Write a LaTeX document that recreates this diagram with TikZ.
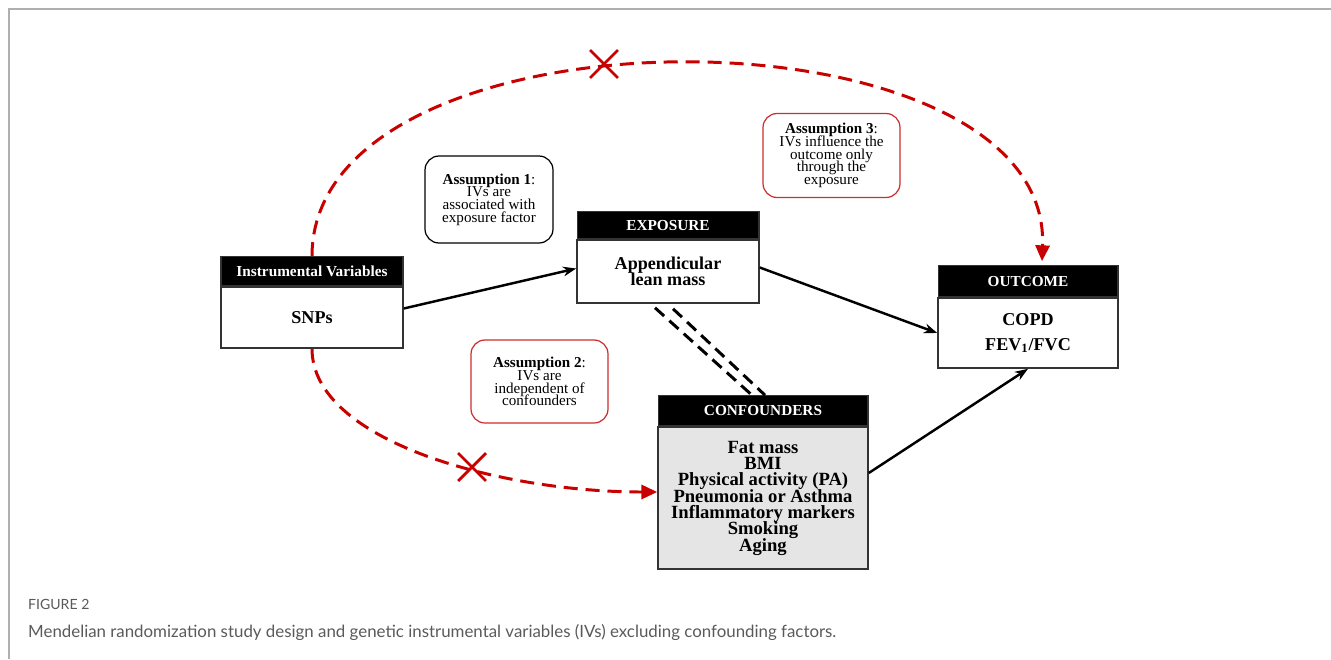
\documentclass[tikz,border=0pt]{standalone}
\usepackage{fontspec}
\setmainfont{Liberation Serif}
\newfontfamily\capfont{Lato}
\usetikzlibrary{arrows.meta, positioning, shapes, calc}

\definecolor{ivred}{RGB}{200,0,0}
\definecolor{boxred}{RGB}{205,45,45}
\definecolor{confgray}{RGB}{229,229,229}
\definecolor{framegray}{RGB}{175,175,175}
\definecolor{capgray}{RGB}{90,90,90}
\newcommand{\tightlines}{\lineskiplimit=-20pt\relax}

\begin{document}
\begin{tikzpicture}[x=0.02cm, y=-0.02cm,
    hdr/.style={fill=black, text=white, draw=black!80, line width=0.6pt, inner sep=0pt, font=\fontsize{8.7}{10}\selectfont\bfseries},
    bodybox/.style={draw=black!80, line width=0.9pt, fill=white, inner sep=0pt, align=center, font=\fontsize{10.3}{8.8}\selectfont\bfseries\tightlines},
    assume/.style={draw, rounded corners=0.28cm, line width=0.7pt, inner sep=0pt, align=center, font=\fontsize{8.6}{7.2}\selectfont\tightlines},
    arr/.style={-{Stealth[length=7.5pt,width=5.5pt]}, line width=1.4pt},
    ivpath/.style={ivred, dash pattern=on 8pt off 4.5pt, line width=1.7pt, -{Triangle[length=9pt,width=8pt]}},
    cross/.style={cross out, draw=ivred, line width=1.6pt, minimum size=0.5cm, inner sep=0pt}]
    \useasboundingbox (0,0) rectangle (1331,659);

    % Frame of the figure
    \draw[framegray, line width=1.2pt] (8,9) -- (1331,9);
    \draw[framegray, line width=0.9pt] (9,9) -- (9,659);

    % Nodes representing the instrument, exposure and outcome
    \node (iv) [bodybox, minimum width=3.64cm, minimum height=1.22cm] at (312,317.5) {SNPs};
    \node (ivh) [hdr, minimum width=3.64cm, minimum height=0.58cm, above=0pt of iv] {Instrumental Variables};
    \node (exp) [bodybox, minimum width=3.64cm, minimum height=1.26cm] at (668,271.5) {Appendicular\\lean mass};
    \node (exph) [hdr, minimum width=3.64cm, minimum height=0.54cm, above=0pt of exp] {EXPOSURE};
    \node (out) [bodybox, minimum width=3.6cm, minimum height=1.4cm] at (1028,333) {COPD\\[5.3pt]FEV\textsubscript{1}/FVC};
    \node (outh) [hdr, minimum width=3.6cm, minimum height=0.62cm, above=0pt of out] {OUTCOME};

    % Node for the confounders
    \node (conf) [bodybox, fill=confgray, minimum width=4.2cm, minimum height=2.84cm,
        font=\fontsize{10.6}{9.3}\selectfont\bfseries\tightlines] at (763,498)
        {Fat mass\\BMI\\Physical activity (PA)\\Pneumonia or Asthma\\Inflammatory markers\\Smoking\\Aging};
    \node (confh) [hdr, minimum width=4.2cm, minimum height=0.6cm, above=0pt of conf] {CONFOUNDERS};

    % Nodes for the assumptions
    \node (asm1) [assume, minimum width=2.56cm, minimum height=1.74cm] at (489,199.5)
        {\textbf{Assumption 1}:\\IVs are\\associated with\\exposure factor};
    \node (asm2) [assume, draw=boxred, minimum width=2.74cm, minimum height=1.66cm] at (539.5,381.5)
        {\textbf{Assumption 2}:\\IVs are\\independent of\\confounders};
    \node (asm3) [assume, draw=boxred, minimum width=2.74cm, minimum height=1.68cm] at (831.5,155.5)
        {\textbf{Assumption 3}:\\IVs influence the\\outcome only\\through the\\exposure};

    % Causal arrows
    \draw[arr] ($(iv.east)+(0,-9)$) -- ($(exp.west)+(0,-3)$);
    \draw[arr] ($(exp.east)+(0,-4)$) -- (out.west);
    \draw[arr] ($(conf.east)+(0,-25)$) -- (out.south);

    % Exposure and confounders are linked
    \draw[line width=1.7pt, dash pattern=on 7pt off 4pt] ($(exp.south)+(-13,4)$) -- ($(confh.north)+(-11,0)$);
    \draw[line width=1.7pt, dash pattern=on 7pt off 4pt] ($(exp.south)+(5,5)$) -- ($(confh.north)+(2,0)$);

    % Paths that are excluded
    \draw[ivpath] (ivh.north) .. controls +(0,-258) and +(10,-262) .. ($(outh.north)+(14,-4)$);
    \draw[ivpath] (iv.south) .. controls +(0,92) and +(-158,0) .. ($(conf.west)+(0,-6)$);
    \node (x1) [cross] at (604,64) {};
    \node (x2) [cross] at (472,467) {};

    % Caption
    \node (fig) [anchor=base west, font=\capfont\fontsize{8}{10}\selectfont, text=capgray] at (22,609) {FIGURE 2};
    \node (cap) [anchor=base west, font=\capfont\fontsize{9.6}{11}\selectfont, text=capgray] at (22,637)
        {Mendelian randomization study design and genetic instrumental variables (IVs) excluding confounding factors.};
\end{tikzpicture}
\end{document}
